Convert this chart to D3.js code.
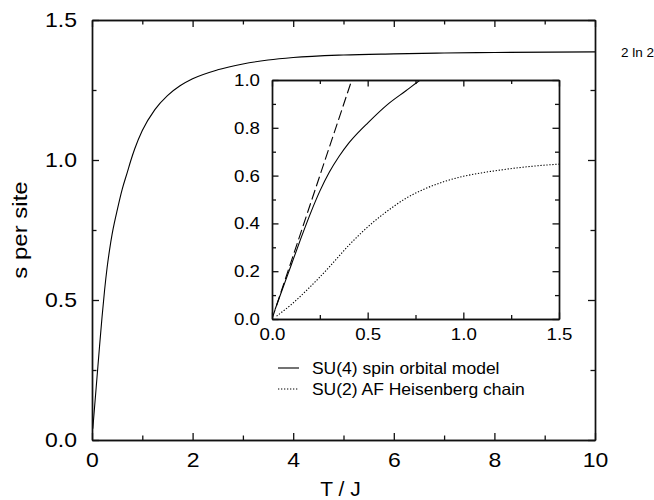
<!DOCTYPE html>
<html>
<head>
<meta charset="utf-8">
<script src="https://cdn.jsdelivr.net/npm/d3@7"></script>
<style>
  html, body { margin: 0; padding: 0; background: #fff; }
  svg { display: block; font-family: "Liberation Sans", Arial, Helvetica, sans-serif; }
</style>
</head>
<body>
<svg id="chart" width="654" height="500"></svg>
<script>
// Entropy per site of the SU(4) spin-orbital chain (T/J, s)
const su4T = [0.016, 0.05, 0.1, 0.15, 0.2, 0.25, 0.3, 0.35, 0.4, 0.45, 0.5, 0.6, 0.7, 0.775, 0.85, 1.0, 1.25, 1.5, 1.75, 2.0, 2.5, 3.0, 3.5, 4.0, 5.0, 6.0, 7.0, 8.0, 10.0];
const su4S = [0.04, 0.115, 0.225, 0.335, 0.44, 0.535, 0.615, 0.68, 0.735, 0.78, 0.82, 0.895, 0.955, 1.0, 1.04, 1.105, 1.18, 1.23, 1.265, 1.29, 1.322, 1.343, 1.357, 1.366, 1.375, 1.379, 1.382, 1.384, 1.386];

// Entropy per site of the SU(2) antiferromagnetic Heisenberg chain
const su2T = [0.024, 0.1, 0.2, 0.3, 0.4, 0.5, 0.6, 0.7, 0.8, 0.9, 1.0, 1.1, 1.2, 1.3, 1.4, 1.5];
const su2S = [0.012, 0.06, 0.135, 0.218, 0.307, 0.385, 0.45, 0.505, 0.545, 0.575, 0.597, 0.612, 0.624, 0.634, 0.642, 0.648];

// Linear low-temperature behaviour of the SU(4) entropy
const lowT = [0, 0.417];
const lowS = [0, 1.0];

// High-temperature limit
const limitValue = 2 * Math.LN2;
const limitLabel = "2 ln 2";

// Axis ticks
const mainXMajor = [0, 2, 4, 6, 8, 10];
const mainXMinor = [1, 3, 5, 7, 9];
const mainYMajor = [0, 0.5, 1.0, 1.5];
const mainYMinor = [0.25, 0.75, 1.25];
const insetXMajor = [0, 0.5, 1.0, 1.5];
const insetXMinor = [0.25, 0.75, 1.25];
const insetYMajor = [0, 0.2, 0.4, 0.6, 0.8, 1.0];
const insetYMinor = [0.1, 0.3, 0.5, 0.7, 0.9];

const xTitle = "T / J";
const yTitle = "s per site";
const legendLabels = ["SU(4) spin orbital model", "SU(2) AF Heisenberg chain"];

const svg = d3.select("#chart");
const zip = (a, b) => a.map((v, i) => [v, b[i]]);

const main = { left: 92, right: 595, top: 20, bottom: 440 };
const inset = { left: 272, right: 559, top: 80, bottom: 319 };

const x = d3.scaleLinear().domain([0, 10]).range([main.left, main.right]);
const y = d3.scaleLinear().domain([0, 1.5]).range([main.bottom, main.top]);
const xi = d3.scaleLinear().domain([0, 1.5]).range([inset.left, inset.right]);
const yi = d3.scaleLinear().domain([0, 1.0]).range([inset.bottom, inset.top]);

const axisColor = "#111";

// Boxed frame with inward ticks on all four sides; labels on bottom and left only
function frameAxes(g, xs, ys, box, xMaj, xMin, yMaj, yMin, opts) {
  const add = (axis, tx, ty) => {
    const a = g.append("g").attr("transform", `translate(${tx},${ty})`).call(axis);
    a.select(".domain").attr("stroke", axisColor).attr("stroke-width", 1.4);
    a.selectAll(".tick line").attr("stroke", axisColor).attr("stroke-width", 1.3);
    return a;
  };
  const noLab = () => "";
  add(d3.axisBottom(xs).tickValues(xMin).tickSizeInner(-opts.minor).tickSizeOuter(0).tickFormat(noLab), 0, box.bottom);
  add(d3.axisTop(xs).tickValues(xMin).tickSizeInner(-opts.minor).tickSizeOuter(0).tickFormat(noLab), 0, box.top);
  add(d3.axisLeft(ys).tickValues(yMin).tickSizeInner(-opts.minor).tickSizeOuter(0).tickFormat(noLab), box.left, 0);
  add(d3.axisRight(ys).tickValues(yMin).tickSizeInner(-opts.minor).tickSizeOuter(0).tickFormat(noLab), box.right, 0);
  const bx = add(d3.axisBottom(xs).tickValues(xMaj).tickSizeInner(-opts.major).tickSizeOuter(0)
    .tickPadding(opts.xPad).tickFormat(opts.xFmt), 0, box.bottom);
  add(d3.axisTop(xs).tickValues(xMaj).tickSizeInner(-opts.major).tickSizeOuter(0).tickFormat(noLab), 0, box.top);
  const ly = add(d3.axisLeft(ys).tickValues(yMaj).tickSizeInner(-opts.major).tickSizeOuter(0)
    .tickPadding(opts.yPad).tickFormat(d3.format(".1f")), box.left, 0);
  add(d3.axisRight(ys).tickValues(yMaj).tickSizeInner(-opts.major).tickSizeOuter(0).tickFormat(noLab), box.right, 0);

  [bx, ly].forEach(a => a.selectAll(".tick text")
    .attr("font-family", "'Liberation Sans', Arial, sans-serif")
    .attr("font-size", opts.fs).attr("fill", "#000"));
  bx.selectAll(".tick text").attr("transform", `scale(${opts.sx},1)`);
  ly.selectAll(".tick text").attr("transform", `scale(${opts.sx},1)`).attr("x", -opts.yPad / opts.sx);
}

svg.append("defs").call(d => {
  d.append("clipPath").attr("id", "clipMain").append("rect")
    .attr("x", main.left).attr("y", main.top)
    .attr("width", main.right - main.left).attr("height", main.bottom - main.top);
  d.append("clipPath").attr("id", "clipInset").append("rect")
    .attr("x", inset.left).attr("y", inset.top)
    .attr("width", inset.right - inset.left).attr("height", inset.bottom - inset.top);
});

// ---------- main panel ----------
const mainLine = d3.line().x(d => x(d[0])).y(d => y(d[1])).curve(d3.curveMonotoneX);
svg.append("path").datum(zip(su4T, su4S))
  .attr("clip-path", "url(#clipMain)")
  .attr("fill", "none").attr("stroke", "#000").attr("stroke-width", 1.1)
  .attr("d", mainLine);

frameAxes(svg, x, y, main, mainXMajor, mainXMinor, mainYMajor, mainYMinor,
  { major: 7, minor: 4.5, xPad: 13, yPad: 15, fs: 20, sx: 1.15, xFmt: d3.format("d") });

svg.append("text")
  .attr("x", x(10) + 26).attr("y", y(limitValue) + 5)
  .attr("font-size", 13.5)
  .text(limitLabel);

svg.append("text")
  .attr("x", (main.left + main.right) / 2 - 3).attr("y", 496)
  .attr("text-anchor", "middle").attr("font-size", 21)
  .text(xTitle);

svg.append("text")
  .attr("transform", `translate(27,${(main.top + main.bottom) / 2}) rotate(-90) scale(1.2,1)`)
  .attr("text-anchor", "middle").attr("font-size", 20)
  .text(yTitle);

// ---------- inset ----------
svg.append("rect")
  .attr("x", inset.left).attr("y", inset.top)
  .attr("width", inset.right - inset.left).attr("height", inset.bottom - inset.top)
  .attr("fill", "#fff");

const insetLine = d3.line().x(d => xi(d[0])).y(d => yi(d[1])).curve(d3.curveMonotoneX);
const ig = svg.append("g").attr("clip-path", "url(#clipInset)");
ig.append("path").datum(zip(lowT, lowS))
  .attr("fill", "none").attr("stroke", "#000").attr("stroke-width", 1.1)
  .attr("stroke-dasharray", "10,4")
  .attr("d", d3.line().x(d => xi(d[0])).y(d => yi(d[1])));
ig.append("path").datum(zip(su4T, su4S))
  .attr("fill", "none").attr("stroke", "#000").attr("stroke-width", 1.1)
  .attr("d", insetLine);
ig.append("path").datum(zip(su2T, su2S))
  .attr("fill", "none").attr("stroke", "#000").attr("stroke-width", 1.1)
  .attr("stroke-dasharray", "1.3,1.7")
  .attr("d", insetLine);

frameAxes(svg, xi, yi, inset, insetXMajor, insetXMinor, insetYMajor, insetYMinor,
  { major: 6.5, minor: 4, xPad: 9, yPad: 12, fs: 17, sx: 1.1, xFmt: d3.format(".1f") });

// ---------- legend ----------
const legend = svg.append("g").attr("transform", "translate(278,368)");
const dashes = [null, "1.3,1.7"];
legendLabels.forEach((lab, i) => {
  const row = legend.append("g").attr("transform", `translate(0,${i * 21})`);
  row.append("line").attr("x1", 0).attr("x2", 21).attr("y1", 0).attr("y2", 0)
    .attr("stroke", "#000").attr("stroke-width", 1.1)
    .attr("stroke-dasharray", dashes[i]);
  row.append("text").attr("x", 32).attr("y", 6)
    .attr("transform", "scale(1.06,1)")
    .attr("font-size", 16.5).text(lab);
});
</script>
</body>
</html>
